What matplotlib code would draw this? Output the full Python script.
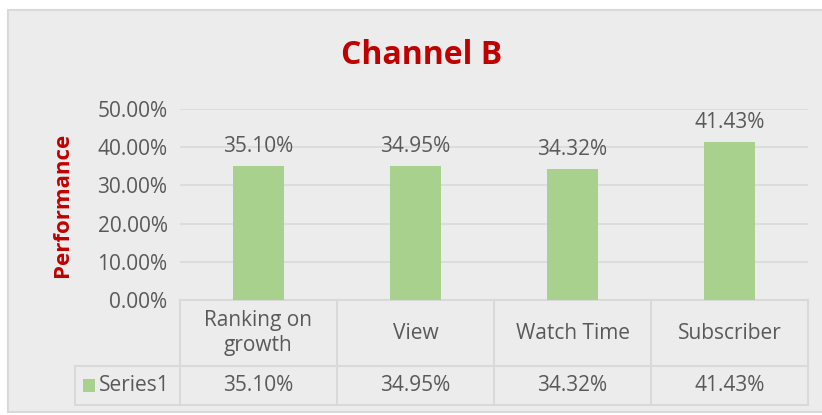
import matplotlib.pyplot as plt
from matplotlib.patches import Rectangle
from matplotlib.ticker import PercentFormatter

categories = ["Ranking on\ngrowth", "View", "Watch Time", "Subscriber"]
values = [35.10, 34.95, 34.32, 41.43]
series_name = "Series1"
y_ticks = [0, 10, 20, 30, 40, 50]

W, H = 822, 415
bg = "#ECECEC"
grid_c = "#D9D9D9"
txt_c = "#595959"
bar_c = "#A9D18E"
red = "#C00000"
fs = 15

plt.rcParams["font.family"] = ["Open Sans", "DejaVu Sans"]

fig = plt.figure(figsize=(W / 100, H / 100), dpi=100)
fig.patch.set_facecolor("white")
fig.patches.append(Rectangle((8 / W, 3 / H), 1.2, (H - 13) / H, transform=fig.transFigure,
                             facecolor=bg, edgecolor=grid_c, linewidth=1.5, zorder=-10))

# plot area in pixels
x0, x1 = 180, 808
y_top, y_bot = 109, 300
ax = fig.add_axes([x0 / W, 1 - y_bot / H, (x1 - x0) / W, (y_bot - y_top) / H])
ax.set_facecolor("none")

xs = list(range(len(values)))
ax.bar(xs, values, width=0.32, color=bar_c, zorder=3)
for x, v in zip(xs, values):
    ax.text(x, v + 2.4, f"{v:.2f}%", ha="center", va="bottom", fontsize=fs, color=txt_c)

ax.set_xlim(-0.5, len(values) - 0.5)
ax.set_ylim(0, 50)
ax.set_yticks(y_ticks)
ax.yaxis.set_major_formatter(PercentFormatter(decimals=2))
ax.tick_params(axis="y", length=0, labelsize=fs, labelcolor=txt_c, pad=9)
ax.set_xticks([])
ax.grid(axis="y", color=grid_c, linewidth=1.2, zorder=0)
for s in ax.spines.values():
    s.set_visible(False)

fig.text(62 / W, 1 - 205 / H, "Performance", rotation=90, ha="center", va="center",
         fontsize=16, fontweight="bold", color=red)
fig.text(422 / W, 1 - 55 / H, "Channel B", ha="center", va="center",
         fontsize=23, fontweight="bold", color=red)

# data table below the axis (axes-y coords, data-x coords)
trans = ax.get_xaxis_transform()
ph = y_bot - y_top
r1 = -66 / ph
r2 = -105 / ph
left = -0.5 - 105 / 157
right = len(values) - 0.5
lk = dict(color=grid_c, linewidth=1.5, clip_on=False, transform=trans)
ax.plot([-0.5, right], [0, 0], **lk)
ax.plot([left, right], [r1, r1], **lk)
ax.plot([left, right], [r2, r2], **lk)
ax.plot([left, left], [r1, r2], **lk)
for i in range(len(values) + 1):
    ax.plot([i - 0.5, i - 0.5], [0, r2], **lk)

for x, c, v in zip(xs, categories, values):
    ax.text(x, r1 / 2, c, ha="center", va="center", fontsize=fs, color=txt_c,
            transform=trans, linespacing=1.2)
    ax.text(x, (r1 + r2) / 2, f"{v:.2f}%", ha="center", va="center", fontsize=fs,
            color=txt_c, transform=trans)

ax.add_patch(Rectangle((left + 0.05, (r1 + r2) / 2 - 0.036), 0.078, 0.072, transform=trans,
                       facecolor=bar_c, edgecolor="none", clip_on=False))
ax.text(left + 0.15, (r1 + r2) / 2, series_name, ha="left", va="center", fontsize=fs,
        color=txt_c, transform=trans)

fig.savefig("out.png", dpi=100, facecolor=fig.get_facecolor())
